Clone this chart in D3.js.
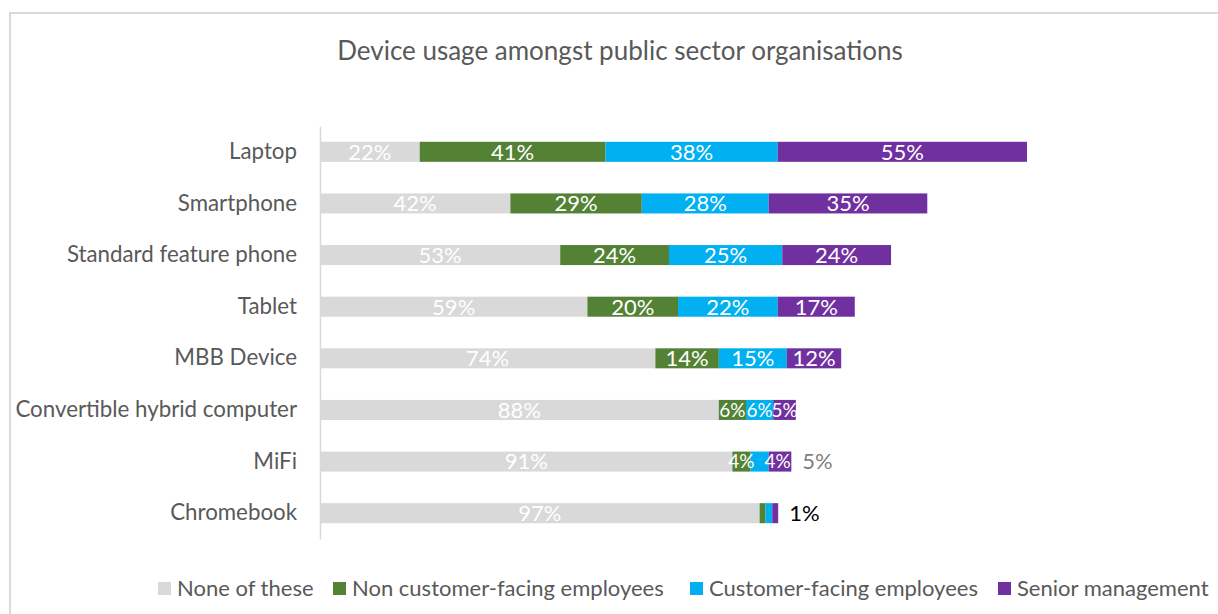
<!DOCTYPE html>
<html>
<head>
<meta charset="utf-8">
<script src="https://cdn.jsdelivr.net/npm/d3@7/dist/d3.min.js"></script>
<style>
  html, body { margin: 0; padding: 0; background: #fff; }
  svg { display: block; font-family: Lato, "Open Sans", sans-serif; }
</style>
</head>
<body>
<svg id="chart" width="1218" height="614"></svg>
<script>
// Device categories, top to bottom
const categories = [
  "Laptop", "Smartphone", "Standard feature phone", "Tablet",
  "MBB Device", "Convertible hybrid computer", "MiFi", "Chromebook"
];
// Share of organisations (%) per user group
const noneOfThese      = [22, 42, 53, 59, 74, 88, 91, 97];
const nonCustomerFacing = [41, 29, 24, 20, 14, 6, 4, 1.3];
const customerFacing   = [38, 28, 25, 22, 15, 6, 4, 1.5];
const seniorManagement = [55, 35, 24, 17, 12, 5, 5, 1.3];

const seriesNames = ["None of these", "Non customer-facing employees", "Customer-facing employees", "Senior management"];
const seriesColors = ["#d9d9d9", "#548235", "#00b0f0", "#7030a0"];
const seriesValues = [noneOfThese, nonCustomerFacing, customerFacing, seniorManagement];

const svg = d3.select("#chart");
const W = 1218, H = 614;

// chart frame
svg.append("path")
  .attr("d", `M10,${H + 5} V13 H${W + 5}`)
  .attr("fill", "none").attr("stroke", "#d9d9d9").attr("stroke-width", 2);

// title
svg.append("text")
  .attr("x", 620).attr("y", 60)
  .attr("text-anchor", "middle")
  .attr("fill", "#595959")
  .style("font-size", "26px")
  .text("Device usage amongst public sector organisations");

// rows for stacking
const rows = categories.map((c, i) => {
  const r = { category: c };
  seriesNames.forEach((s, k) => r[s] = seriesValues[k][i]);
  return r;
});
const stacked = d3.stack().keys(seriesNames)(rows);

const x = d3.scaleLinear().domain([0, 156]).range([320, 1027]);
const y = d3.scaleBand().domain(categories).range([126, 539])
  .paddingInner(0.612).paddingOuter(0.306);

// category axis
const yAxis = svg.append("g")
  .attr("transform", "translate(320,0)")
  .call(d3.axisLeft(y).tickSize(0).tickPadding(23));
yAxis.select(".domain").attr("stroke", "#d9d9d9").attr("stroke-width", 1.5);
yAxis.selectAll("text")
  .attr("fill", "#595959")
  .style("font-size", "22.3px")
  .style("font-family", "Lato, 'Open Sans', sans-serif");

// bars
const layers = svg.append("g").selectAll("g")
  .data(stacked).join("g")
  .attr("fill", (d, k) => seriesColors[k]);
layers.selectAll("rect")
  .data(d => d).join("rect")
  .attr("x", d => x(d[0]))
  .attr("y", d => y(d.data.category))
  .attr("width", d => x(d[1]) - x(d[0]))
  .attr("height", y.bandwidth());

// value labels; a few narrow segments get their label moved
const fmt = v => d3.format(".0f")(v) + "%";
const labelPlacement = {
  "MiFi|Customer-facing employees": { dx: 18 },
  "MiFi|Senior management": { outside: true, color: "#7f7f7f" },
  "Chromebook|Non customer-facing employees": { hidden: true },
  "Chromebook|Customer-facing employees": { hidden: true },
  "Chromebook|Senior management": { outside: true, color: "#000000" }
};
const labels = svg.append("g")
  .style("font-size", "22px")
  .attr("text-anchor", "middle");
stacked.forEach(layer => {
  layer.forEach(d => {
    const cat = d.data.category;
    const p = labelPlacement[cat + "|" + layer.key] || {};
    if (p.hidden) return;
    const v = d[1] - d[0];
    let cx = (x(d[0]) + x(d[1])) / 2 + (p.dx || 0);
    let anchor = "middle";
    if (p.outside) { cx = x(d[1]) + 11; anchor = "start"; }
    const t = labels.append("text")
      .attr("x", cx)
      .attr("y", y(cat) + y.bandwidth() / 2)
      .attr("dy", "0.36em")
      .attr("text-anchor", anchor)
      .attr("fill", p.color || "#ffffff")
      .text(fmt(v));
    // shrink labels that are wider than their segment
    const segW = x(d[1]) - x(d[0]);
    const tw = t.node().getComputedTextLength();
    if (!p.outside && tw > segW) {
      const fs = Math.max(19, 22 * (segW - 1) / tw);
      t.style("font-size", fs + "px");
    }
  });
});

// legend
const legendX = [158, 333, 690, 998];
const legend = svg.append("g");
seriesNames.forEach((s, k) => {
  legend.append("rect")
    .attr("x", legendX[k]).attr("y", 582)
    .attr("width", 13).attr("height", 13)
    .attr("fill", seriesColors[k]);
  legend.append("text")
    .attr("x", legendX[k] + 19).attr("y", 596)
    .attr("fill", "#595959")
    .style("font-size", "22px")
    .text(s);
});
</script>
</body>
</html>
